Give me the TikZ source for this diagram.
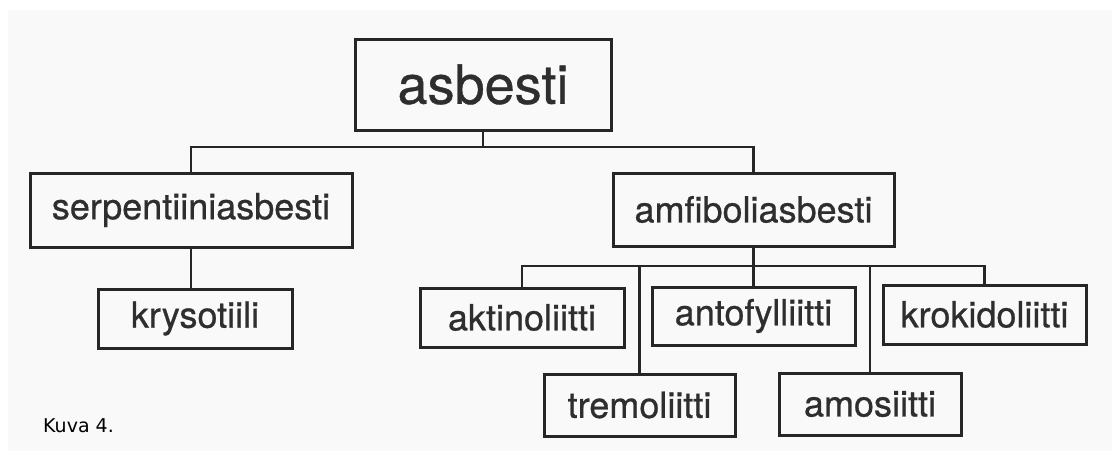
\documentclass[tikz,border=0pt]{standalone}
\usepackage{fontspec}
\setmainfont{TeX Gyre Heros}
\newfontfamily\heavy{TeX Gyre Heros}[FakeBold=0.7]
\newfontfamily\capfont{DejaVu Sans}
\definecolor{bgray}{HTML}{F9F9F9}
\definecolor{ink}{HTML}{262626}
\definecolor{txt}{HTML}{2E2E2E}
\begin{document}
\begin{tikzpicture}[x=1pt,y=-1pt,
  box/.style={draw=ink,line width=3pt,rectangle,inner sep=0pt,text=txt,
    font=\heavy\fontsize{36}{40}\selectfont},
  bigbox/.style={box,font=\heavy\fontsize{54}{60}\selectfont},
  conn/.style={draw=ink,line width=2.8pt}]
\useasboundingbox (0,0) rectangle (1112,451);
\fill[white] (0,0) rectangle (1112,451);
\fill[bgray] (8,10) rectangle (1112,451);

\node[bigbox,minimum width=256pt,minimum height=91pt] (asb) at (483,84.5) {asbesti};
\node[box,minimum width=322pt,minimum height=74pt] (serp) at (191,210) {serpentiiniasbesti};
\node[box,minimum width=281pt,minimum height=73pt] (amfi) at (753.5,209.5) {amfiboliasbesti};
\node[box,minimum width=194pt,minimum height=59pt] (krys) at (195,318.5) {krysotiili};
\node[box,minimum width=204pt,minimum height=59pt] (akt) at (522,317.5) {aktinoliitti};
\node[box,minimum width=203pt,minimum height=58pt] (ant) at (753.5,316) {antofylliitti};
\node[box,minimum width=203pt,minimum height=59pt] (krok) at (984.5,314.5) {krokidoliitti};
\node[box,minimum width=191pt,minimum height=62pt] (trem) at (639.5,405) {tremoliitti};
\node[box,minimum width=182pt,minimum height=62pt] (amos) at (870,404) {amosiitti};

\coordinate (j1) at (485,147);
\coordinate (j2) at (753,266);

\draw[conn] (asb.south) -- (asb.south |- j1);
\draw[conn] (serp.north) |- (j1) -| (amfi.north);
\draw[conn] (serp.south) -- (serp.south |- krys.north);
\draw[conn] (amfi.south) -- (ant.north);
\draw[conn] (akt.north) |- (j2) -| (krok.north);
\draw[conn] (trem.north) -- (trem.north |- j2);
\draw[conn] (amos.north) -- (amos.north |- j2);

\node[anchor=base west,inner sep=0pt,text=black,font=\capfont\fontsize{19}{22}\selectfont] (cap) at (43,432) {Kuva 4.};
\end{tikzpicture}
\end{document}
